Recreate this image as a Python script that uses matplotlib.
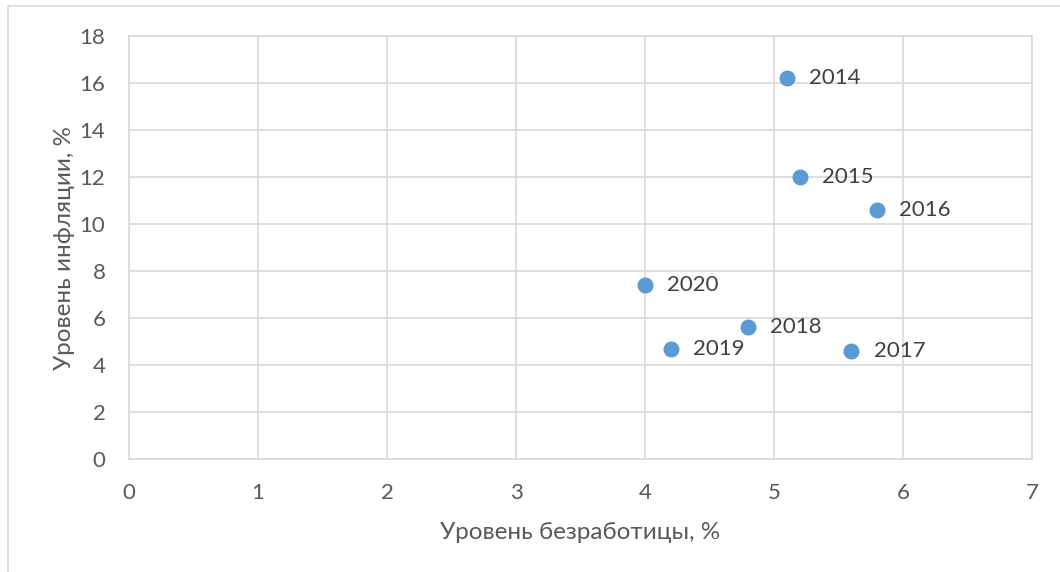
import matplotlib.pyplot as plt
from matplotlib.patches import Rectangle

years = ['2014', '2015', '2016', '2017', '2018', '2019', '2020']
unemployment = [5.1, 5.2, 5.8, 5.6, 4.8, 4.2, 4.0]
inflation = [16.2, 12.0, 10.6, 4.6, 5.6, 4.7, 7.4]

plt.rcParams['font.family'] = ['Lato', 'DejaVu Sans']

fig = plt.figure(figsize=(10.6, 5.72), dpi=100)
fig.patches.append(Rectangle((8 / 1060, -0.1), 1.2, 1 - 6 / 572 + 0.1,
                             transform=fig.transFigure, fill=False,
                             edgecolor='#d9d9d9', linewidth=1.2))
ax = fig.add_axes([129 / 1060, 1 - 459 / 572, 903 / 1060, 423 / 572])

ax.scatter(unemployment, inflation, s=110, color='#5b9bd5', zorder=3,
           clip_on=False)
for x, y, t in zip(unemployment, inflation, years):
    ax.annotate(t, (x, y), xytext=(16, 0), textcoords='offset points',
                va='center', ha='left', fontsize=16, color='#404040')

ax.set_xlim(0, 7)
ax.set_ylim(0, 18)
ax.set_xticks(range(0, 8))
ax.set_yticks(range(0, 19, 2))
ax.grid(True, color='#d9d9d9', linewidth=1.2)
ax.set_axisbelow(True)
for s in ax.spines.values():
    s.set_color('#d9d9d9')
    s.set_linewidth(1.2)
ax.tick_params(length=0, labelsize=16, labelcolor='#595959')
ax.tick_params(axis='x', pad=17)
ax.tick_params(axis='y', pad=17)
ax.set_xlabel('Уровень безработицы, %', fontsize=17.5, color='#595959',
              labelpad=14)
ax.set_ylabel('Уровень инфляции, %', fontsize=17.5, color='#595959',
              labelpad=3)

fig.savefig('out.png', dpi=100)
